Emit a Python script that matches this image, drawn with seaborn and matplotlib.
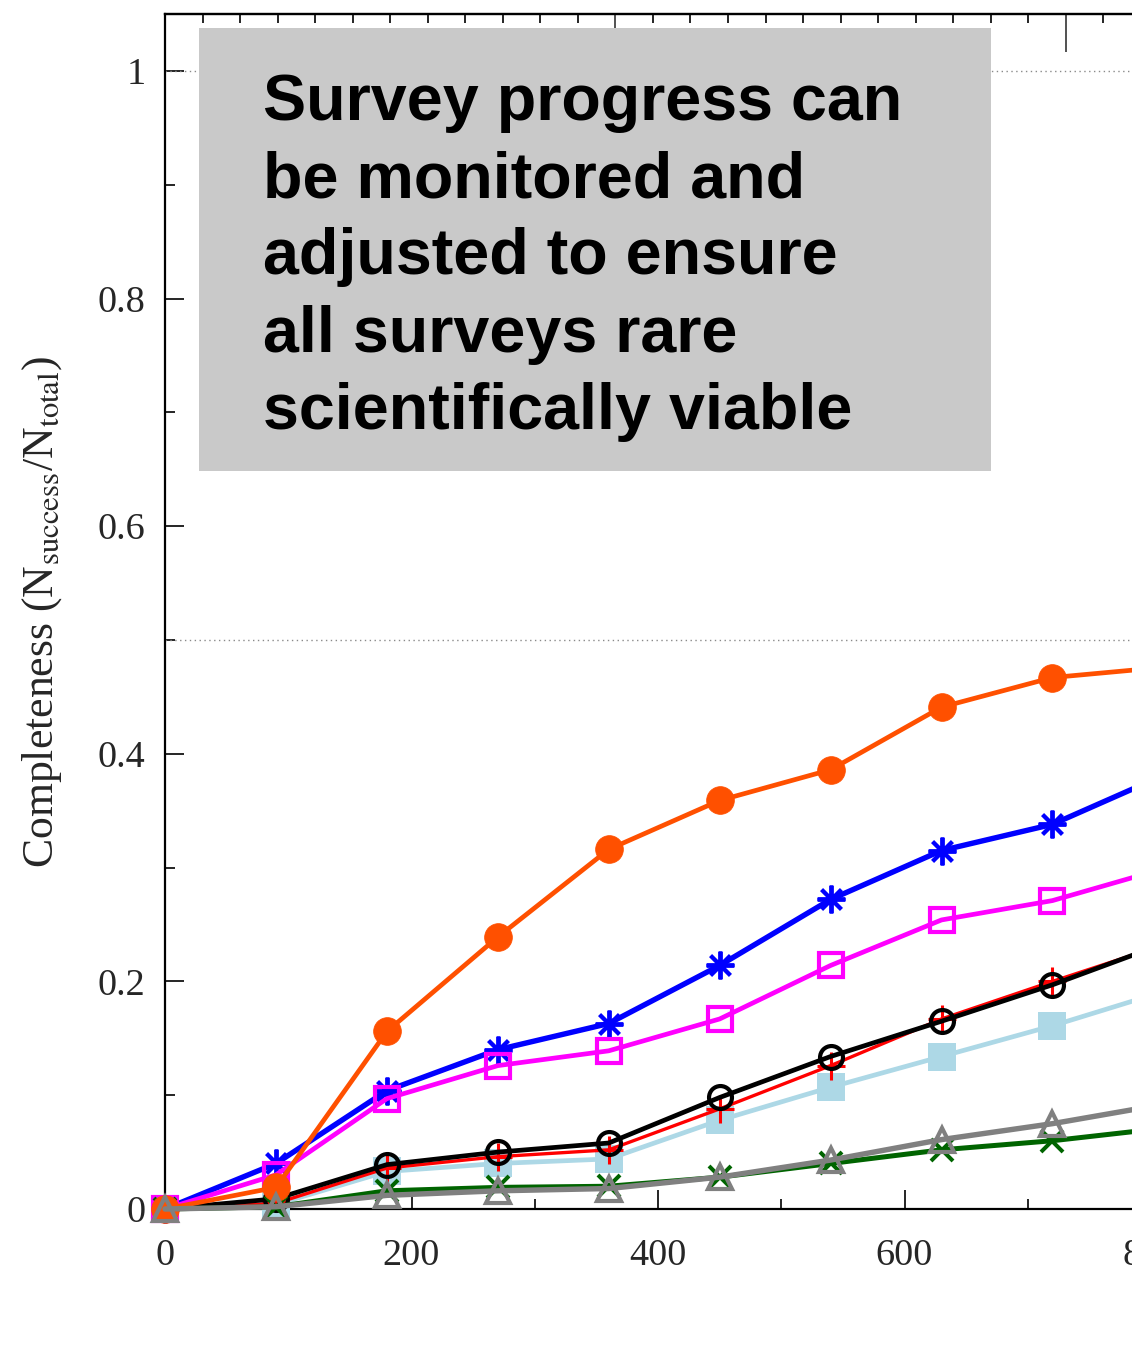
import numpy as np
import pandas as pd
import matplotlib
matplotlib.use("Agg")
import matplotlib.pyplot as plt
from matplotlib.patches import Rectangle
from matplotlib.ticker import MultipleLocator, FixedLocator, NullFormatter
import seaborn as sns

# Survey elapsed time (days)
days = [0, 90, 180, 270, 360, 450, 540, 630, 720, 810]

# Completeness of each survey at each epoch
orange_vals = [0.0, 0.019, 0.156, 0.239, 0.316, 0.359, 0.386, 0.441, 0.467, 0.476]
blue_vals = [0.0, 0.040, 0.104, 0.140, 0.163, 0.214, 0.272, 0.315, 0.338, 0.381]
magenta_vals = [0.0, 0.030, 0.097, 0.126, 0.139, 0.167, 0.214, 0.254, 0.271, 0.299]
red_vals = [0.0, 0.005, 0.036, 0.046, 0.052, 0.088, 0.126, 0.167, 0.200, 0.232]
black_vals = [0.0, 0.009, 0.039, 0.050, 0.058, 0.098, 0.134, 0.165, 0.197, 0.233]
lightblue_vals = [0.0, 0.004, 0.033, 0.040, 0.044, 0.078, 0.107, 0.134, 0.161, 0.191]
gray_vals = [0.0, 0.002, 0.012, 0.016, 0.018, 0.028, 0.043, 0.061, 0.075, 0.092]
green_vals = [0.0, 0.002, 0.016, 0.019, 0.020, 0.028, 0.040, 0.052, 0.060, 0.071]

y_ticks = [0, 0.2, 0.4, 0.6, 0.8, 1.0]
y_ticklabels = ["0", "0.2", "0.4", "0.6", "0.8", "1"]
x_ticks = [0, 200, 400, 600, 800]
x_ticklabels = ["0", "200", "400", "600", "800"]

message = ["Survey progress can", "be monitored and", "adjusted to ensure",
           "all surveys rare", "scientifically viable"]

sns.set_theme(style="white")
plt.rcParams["font.family"] = ["Liberation Serif", "DejaVu Serif"]
plt.rcParams["mathtext.fontset"] = "stix"

fig = plt.figure(figsize=(11.32, 13.51), dpi=100)
ax = fig.add_axes([0.1458, 0.1051, 0.9799, 0.8845])

series = [
    # values, color, marker, ms, lw, mew, facecolor, zorder
    (lightblue_vals, "#ADD8E6", "s", 20, 3.4, 0.0, "#ADD8E6", 3),
    (red_vals, "#FF0000", "P", 0, 2.4, 0.0, "#FF0000", 4),
    (black_vals, "#000000", "o", 16.5, 3.4, 3.0, "none", 5),
    (blue_vals, "#0000FF", (8, 2, 0), 20, 3.9, 2.8, "#0000FF", 6),
    (magenta_vals, "#FF00FF", "s", 17, 3.4, 3.0, "none", 7),
    (green_vals, "#006400", "x", 15.5, 3.6, 2.9, "#006400", 8),
    (orange_vals, "#FF5000", "o", 20, 3.4, 0.5, "#FF5000", 9),
    (gray_vals, "#808080", "^", 17, 3.9, 3.0, "none", 10),
]

for vals, color, marker, ms, lw, mew, fc, z in series:
    df = pd.DataFrame({"day": days, "completeness": vals})
    sns.lineplot(data=df, x="day", y="completeness", ax=ax, color=color,
                 marker=marker, markersize=ms, linewidth=lw,
                 markeredgewidth=mew, markeredgecolor=color,
                 markerfacecolor=fc, zorder=z, clip_on=False)

# plus markers on the red series (mostly hidden under the black circles)
ax.plot(days, red_vals, linestyle="none", marker="+", markersize=20,
        markeredgewidth=2.2, color="#FF0000", zorder=4.5)

ax.set_xlim(0, 900)
ax.set_ylim(0, 1.05)

# dotted reference levels
for lvl in (0.5, 1.0):
    ax.axhline(lvl, color="#8a8a8a", linestyle=(0, (1, 2.5)), linewidth=1.0, zorder=1)

ax.xaxis.set_major_locator(FixedLocator(x_ticks))
ax.set_xticklabels(x_ticklabels)
ax.xaxis.set_minor_locator(MultipleLocator(100))
ax.yaxis.set_major_locator(FixedLocator(y_ticks))
ax.set_yticklabels(y_ticklabels)
ax.yaxis.set_minor_locator(MultipleLocator(0.1))

ax.tick_params(axis="both", which="major", direction="in", length=14, width=1.2,
               labelsize=27.5, color="black")
ax.tick_params(axis="both", which="minor", direction="in", length=7, width=1.2,
               color="black")
ax.tick_params(axis="x", which="both", bottom=True, top=False, pad=21)
ax.tick_params(axis="y", which="both", left=True, right=False, pad=14)
for lab in ax.get_xticklabels():
    lab.set_x(lab.get_position()[0])

for sp in ax.spines.values():
    sp.set_color("black")
    sp.set_linewidth(1.6)

ax.set_xlabel("")
ax.set_ylabel(r"Completeness (N$_{\rm success}$/N$_{\rm total}$)", fontsize=31.5,
              labelpad=24)

# calendar ticks along the top: months (short) and years (long)
month_ticks = 30.6 + 30.44 * np.arange(0, 29)
year_ticks = month_ticks[[11, 23]]
top = ax.secondary_xaxis("top")
top.xaxis.set_major_locator(FixedLocator(year_ticks))
top.xaxis.set_minor_locator(FixedLocator(month_ticks))
top.xaxis.set_major_formatter(NullFormatter())
top.tick_params(which="major", direction="in", length=27, width=1.2, color="#333333")
top.tick_params(which="minor", direction="in", length=6.5, width=1.2, color="black")
top.spines["top"].set_linewidth(1.6)

# annotation panel
fig.add_artist(Rectangle((0.1758, 0.6514), 0.6996, 0.3279, transform=fig.transFigure,
                         facecolor="#C9C9C9", edgecolor="none", zorder=5))
first_baseline = 1 - 120 / 1351
step = 77.2 / 1351
for i, line in enumerate(message):
    fig.text(0.2323, first_baseline - i * step, line, fontsize=46.5, fontweight="bold",
             family=["Liberation Sans", "DejaVu Sans"], color="black",
             ha="left", va="baseline", zorder=6)

fig.savefig("out.png", dpi=100)
